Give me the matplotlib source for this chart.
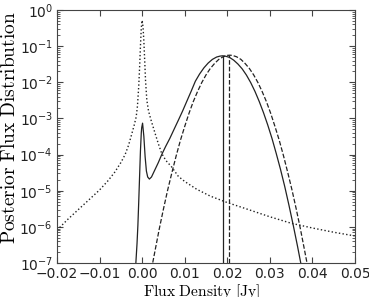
import numpy as np
import matplotlib
matplotlib.use("Agg")
import matplotlib.pyplot as plt

# —–––– Data (x in Jy, y = posterior density) —––––
dot_x = [-0.0200, -0.0175, -0.0150, -0.0125, -0.0100, -0.0080, -0.0064, -0.0050,
         -0.0040, -0.0032, -0.0025, -0.0019, -0.0014, -0.0011, -0.0008, -0.0006,
         -0.0004, -0.0002, 0.0000, 0.0002, 0.0004, 0.0006, 0.0008, 0.0011, 0.0015,
         0.0021, 0.0030, 0.0038, 0.0046, 0.0056, 0.0069, 0.0085, 0.0100, 0.0128,
         0.0160, 0.0200, 0.0250, 0.0300, 0.0350, 0.0400, 0.0450, 0.0500]
dot_y = [8.1e-7, 1.6e-6, 3.0e-6, 5.6e-6, 1.05e-5, 1.9e-5, 3.3e-5, 6.0e-5,
         1.0e-4, 1.8e-4, 3.5e-4, 6.3e-4, 1.1e-3, 2.2e-3, 7.9e-3, 2.5e-2,
         1.0e-1, 3.2e-1, 5.2e-1, 3.5e-1, 1.4e-1, 4.0e-2, 1.1e-2, 3.2e-3, 1.6e-3,
         8.9e-4, 4.0e-4, 2.0e-4, 1.07e-4, 6.8e-5, 4.6e-5, 2.5e-5, 1.8e-5, 1.1e-5,
         7.1e-6, 4.7e-6, 3.0e-6, 1.9e-6, 1.26e-6, 9.3e-7, 7.1e-7, 5.6e-7]

solid_x = [-0.0015, -0.0012, -0.0010, -0.0008, -0.0006, -0.0004, -0.0002, -0.0001,
           0.0001, 0.0004, 0.0007, 0.0010, 0.0013, 0.0017, 0.0022, 0.0030, 0.0038,
           0.0046, 0.0055, 0.0065, 0.0075, 0.0085, 0.0095, 0.0105, 0.0115, 0.0125,
           0.0135, 0.0145, 0.0155, 0.0165, 0.0175, 0.0183, 0.0189, 0.0195, 0.0205,
           0.0215, 0.0225, 0.0235, 0.0245, 0.0255, 0.0265, 0.0275, 0.0285, 0.0295,
           0.0305, 0.0315, 0.0325, 0.0335, 0.0345, 0.0355, 0.0365, 0.0375]
solid_y = [9.0e-8, 3.5e-7, 1.1e-6, 5.0e-6, 2.5e-5, 1.26e-4, 4.0e-4, 5.6e-4,
           7.4e-4, 3.2e-4, 8.7e-5, 3.5e-5, 2.4e-5, 2.1e-5, 2.4e-5, 3.8e-5, 6.0e-5,
           1.0e-4, 1.66e-4, 2.8e-4, 5.0e-4, 8.9e-4, 1.6e-3, 3.0e-3, 5.6e-3, 1.07e-2,
           1.7e-2, 2.5e-2, 3.4e-2, 4.3e-2, 5.0e-2, 5.3e-2, 5.4e-2, 5.3e-2, 4.9e-2,
           4.1e-2, 3.2e-2, 2.35e-2, 1.58e-2, 9.8e-3, 5.6e-3, 2.95e-3, 1.45e-3, 6.6e-4,
           2.8e-4, 1.07e-4, 3.9e-5, 1.3e-5, 3.9e-6, 1.1e-6, 2.9e-7, 7.1e-8]

dash_x = [0.0022, 0.0030, 0.0040, 0.0050, 0.0060, 0.0070, 0.0080, 0.0090, 0.0100,
          0.0110, 0.0120, 0.0130, 0.0140, 0.0150, 0.0160, 0.0170, 0.0180, 0.0190,
          0.0200, 0.0206, 0.0212, 0.0222, 0.0232, 0.0242, 0.0252, 0.0262, 0.0272,
          0.0282, 0.0292, 0.0302, 0.0312, 0.0322, 0.0332, 0.0342, 0.0352, 0.0362,
          0.0372, 0.0382, 0.0390]
dash_y = [6.8e-8, 2.1e-7, 8.5e-7, 3.1e-6, 1.05e-5, 3.2e-5, 9.3e-5, 2.5e-4, 6.0e-4,
          1.38e-3, 2.9e-3, 5.5e-3, 9.8e-3, 1.6e-2, 2.4e-2, 3.3e-2, 4.3e-2, 5.07e-2,
          5.55e-2, 5.62e-2, 5.55e-2, 5.07e-2, 4.3e-2, 3.3e-2, 2.4e-2, 1.6e-2, 9.8e-3,
          5.5e-3, 2.9e-3, 1.38e-3, 6.0e-4, 2.5e-4, 9.3e-5, 3.2e-5, 1.05e-5, 3.1e-6,
          8.5e-7, 2.1e-7, 6.8e-8]

# marker lines at the posterior peaks
peak_solid_x, peak_solid_y = 0.0189, 5.4e-2
peak_dash_x, peak_dash_y = 0.0203, 5.6e-2

ink = '#222222'
plt.rcParams['text.color'] = ink
plt.rcParams['axes.edgecolor'] = '#444444'
plt.rcParams['xtick.color'] = '#444444'
plt.rcParams['ytick.color'] = '#444444'
plt.rcParams['xtick.labelcolor'] = ink
plt.rcParams['ytick.labelcolor'] = ink

fig = plt.figure(figsize=(3.69, 2.97), dpi=100)
ax = fig.add_axes([57 / 369, 1 - 263 / 297, 298 / 369, 253 / 297])

ax.plot(dot_x, dot_y, ':', color=ink, lw=1.0)
ax.plot(solid_x, solid_y, '-', color=ink, lw=0.9)
ax.plot(dash_x, dash_y, '--', color=ink, lw=0.9)
ax.plot([peak_solid_x, peak_solid_x], [1e-7, peak_solid_y], '-', color=ink, lw=0.9)
ax.plot([peak_dash_x, peak_dash_x], [1e-7, peak_dash_y], '--', color=ink, lw=0.9)

ax.set_yscale('log')
ax.set_xlim(-0.02, 0.05)
ax.set_ylim(1e-7, 1e0)
ax.set_xticks(np.arange(-0.02, 0.051, 0.01))
ax.xaxis.set_major_formatter(plt.FuncFormatter(lambda v, p: f"{v:.2f}".replace('-', '\u2212')))
ax.tick_params(which='both', direction='in', top=True, right=True, labelsize=10, pad=3)
ax.tick_params(which='major', length=4)
ax.tick_params(which='minor', length=2)

ax.set_xlabel(r'$\mathrm{Flux\ Density\ [Jy]}$', math_fontfamily='cm', fontsize=11.2)
ax.set_ylabel(r'$\mathrm{Posterior\ Flux\ Distribution}$', math_fontfamily='cm', fontsize=14)
ax.xaxis.set_label_coords(0.487, -0.077)
ax.yaxis.set_label_coords(-0.126, 0.535)

fig.savefig('out.png', dpi=100)
